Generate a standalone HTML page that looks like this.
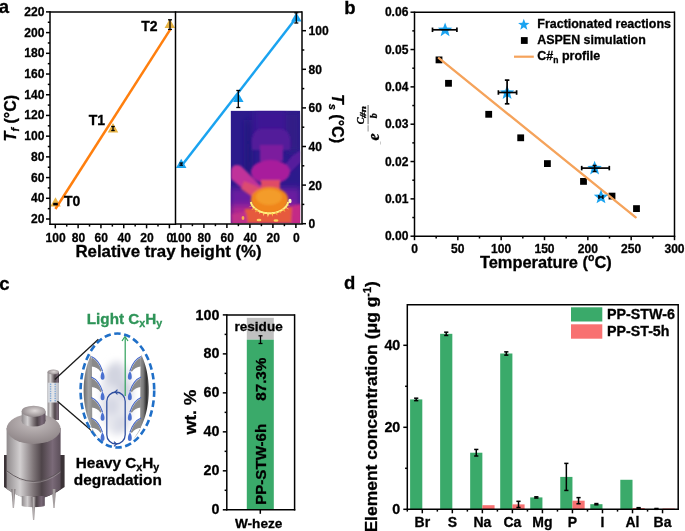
<!DOCTYPE html>
<html><head><meta charset="utf-8"><style>
html,body{margin:0;padding:0;background:#fff;width:685px;height:531px;overflow:hidden}
svg{display:block;will-change:transform}
text{font-family:"Liberation Sans", sans-serif;stroke:#000;stroke-width:0.3px}
</style></head><body>
<svg width="685" height="531" viewBox="0 0 685 531">
<defs>
<clipPath id="thclip"><rect x="230.6" y="110.7" width="69.7" height="112.5"/></clipPath>
<linearGradient id="thbg" x1="0" y1="0" x2="1" y2="0">
<stop offset="0" stop-color="#22198a"/><stop offset="0.5" stop-color="#3a1896"/><stop offset="1" stop-color="#5a1aa0"/>
</linearGradient>
<filter id="bl1" x="-20%" y="-20%" width="140%" height="140%"><feGaussianBlur stdDeviation="0.7"/></filter>
<filter id="bl2" x="-20%" y="-20%" width="140%" height="140%"><feGaussianBlur stdDeviation="1.2"/></filter>
<filter id="bl3" x="-20%" y="-20%" width="140%" height="140%"><feGaussianBlur stdDeviation="3"/></filter>
<filter id="bl4" x="-50%" y="-50%" width="200%" height="200%"><feGaussianBlur stdDeviation="4"/></filter>
<linearGradient id="metal" x1="0" y1="0" x2="1" y2="0">
<stop offset="0" stop-color="#8f8a8c"/><stop offset="0.25" stop-color="#d2cfd0"/><stop offset="0.5" stop-color="#7d7477"/><stop offset="0.65" stop-color="#4e4449"/><stop offset="0.85" stop-color="#7a6a78"/><stop offset="1" stop-color="#5c4f5a"/>
</linearGradient>
<radialGradient id="lidtop" cx="0.55" cy="0.45" r="0.6">
<stop offset="0" stop-color="#ded8d8"/><stop offset="1" stop-color="#8d8587"/>
</radialGradient>
<radialGradient id="bodytop" cx="0.5" cy="0.3" r="0.7">
<stop offset="0" stop-color="#c6bfc0"/><stop offset="1" stop-color="#8e8587"/>
</radialGradient>
<linearGradient id="wallL" x1="0" y1="0" x2="1" y2="0">
<stop offset="0" stop-color="#6a6a6a"/><stop offset="0.3" stop-color="#a2a2a2"/><stop offset="0.6" stop-color="#8c8c8c"/><stop offset="1" stop-color="#7a7a7a"/>
</linearGradient>
<linearGradient id="wallR" x1="0" y1="0" x2="1" y2="0">
<stop offset="0" stop-color="#5a5a5a"/><stop offset="0.15" stop-color="#333"/><stop offset="0.35" stop-color="#7a7a7a"/><stop offset="0.7" stop-color="#a0a0a0"/><stop offset="1" stop-color="#8e8e8e"/>
</linearGradient>
<linearGradient id="win" x1="0" y1="0" x2="1" y2="0">
<stop offset="0" stop-color="#cfd2d8"/><stop offset="0.5" stop-color="#e4e6ea"/><stop offset="1" stop-color="#b9bcc4"/>
</linearGradient>
<linearGradient id="leg" x1="0" y1="0" x2="1" y2="0">
<stop offset="0" stop-color="#6f686a"/><stop offset="0.5" stop-color="#b7b1b2"/><stop offset="1" stop-color="#6f686a"/>
</linearGradient>
</defs>
<text x="-1.30" y="13.00" font-size="18.5" font-weight="bold" text-anchor="start" fill="#000" >a</text>
<text x="344.30" y="13.60" font-size="18.5" font-weight="bold" text-anchor="start" fill="#000" >b</text>
<text x="-0.80" y="289.60" font-size="18.5" font-weight="bold" text-anchor="start" fill="#000" >c</text>
<text x="344.00" y="289.30" font-size="18.5" font-weight="bold" text-anchor="start" fill="#000" >d</text>
<g clip-path="url(#thclip)">
<rect x="230.6" y="110.5" width="69.4" height="112.8" fill="#2c1a8c"/>
<g filter="url(#bl3)">
<rect x="254" y="110" width="32" height="30" fill="#3c1894"/>
<rect x="286" y="112" width="14" height="40" fill="#301a86"/>
<path d="M230 188 L300 188 L300 224 L230 224 Z" fill="#6a1ca0"/>
<path d="M230 206 L300 206 L300 224 L230 224 Z" fill="#b02890"/>
<path d="M246 120 L250 120 L251 175 L246 175 Z" fill="#1e1478"/>
</g>
<g filter="url(#bl2)">
<path d="M252 150 Q249 130 262 128.5 L280 128.5 Q293 130 290 150 Z" fill="#521a9a"/>
<rect x="260" y="145" width="23" height="16" fill="#7c1a9e"/>
<path d="M284 166 L292 156 L301 150 L301 162 L291 172 Z" fill="#561a9c"/>
<ellipse cx="270.5" cy="172" rx="19.5" ry="12" fill="#a81e9c"/>
<path d="M231 170 Q233 163 241 166 L262 187 L255 199 L231 179 Z" fill="#c0339a"/>
<path d="M244 181 L261 188 L254 198 L241 189 Z" fill="#e0506a" opacity="0.85"/>
<rect x="261" y="180" width="19" height="12" fill="#e04c66"/>
<path d="M245 209 L293 207 L295 223 L244 223 Z" fill="#e65a3c"/>
<path d="M232 214 L246 212 L248 224 L232 224 Z" fill="#c0308a"/>
<path d="M292 206 L301 204 L301 224 L291 224 Z" fill="#c42c86"/>
<ellipse cx="269.5" cy="200" rx="18.7" ry="13" fill="#f0861f"/>
<ellipse cx="269" cy="197" rx="13" ry="8" fill="#f39c2a"/>
</g>
<g filter="url(#bl1)">
<path d="M288.17 202.06 L287.91 202.98 L287.56 203.88 L287.13 204.76 L286.60 205.62 L285.99 206.45 L285.30 207.25 L284.52 208.01 L283.68 208.73 L282.76 209.41 L281.77 210.04 L280.73 210.62 L279.63 211.15 L278.47 211.62 L277.28 212.03 L276.04 212.38 L274.77 212.68 L273.48 212.90 L272.16 213.07 L270.83 213.17 L269.50 213.20 L268.17 213.17 L266.84 213.07 L265.52 212.90 L264.23 212.68 L262.96 212.38 L261.72 212.03 L260.53 211.62 L259.37 211.15 L258.27 210.62 L257.23 210.04 L256.24 209.41 L255.32 208.73 L254.48 208.01 L253.70 207.25 L253.01 206.45 L252.40 205.62 L251.87 204.76 L251.44 203.88 L251.09 202.98 L250.83 202.06" fill="none" stroke="#fff07c" stroke-width="2.0"/>
<path d="M285.89 204.76 L289.79 205.70 L288.36 204.76 Z" fill="#fff080"/>
<path d="M284.12 207.25 L289.24 209.60 L286.48 207.25 Z" fill="#ffe070"/>
<path d="M281.23 209.41 L285.47 211.91 L284.29 209.41 Z" fill="#f8b040"/>
<path d="M278.64 211.15 L281.19 213.38 L280.61 211.15 Z" fill="#f8b040"/>
<path d="M274.80 212.38 L277.32 215.53 L277.28 212.38 Z" fill="#f8b040"/>
<path d="M271.24 213.07 L272.72 216.63 L273.08 213.07 Z" fill="#ffd050"/>
<path d="M266.95 213.17 L267.84 217.33 L269.38 213.17 Z" fill="#ffe070"/>
<path d="M263.38 212.68 L263.10 216.21 L265.08 212.68 Z" fill="#ffe070"/>
<path d="M259.70 211.62 L259.09 214.04 L261.35 211.62 Z" fill="#fff080"/>
<path d="M255.85 210.04 L254.95 212.46 L258.60 210.04 Z" fill="#f8b040"/>
<path d="M252.94 208.01 L251.17 210.30 L256.01 208.01 Z" fill="#f8b040"/>
<path d="M251.14 205.62 L248.60 207.25 L253.66 205.62 Z" fill="#ffd050"/>
<ellipse cx="290" cy="201" rx="1.6" ry="2.2" fill="#fff4c0"/>
<ellipse cx="259" cy="220" rx="2.4" ry="1.2" fill="#ffd060"/>
<ellipse cx="276" cy="220.5" rx="2.4" ry="1.2" fill="#ffcf60"/>
<ellipse cx="243" cy="218" rx="1.4" ry="2" fill="#f8b050"/>
</g>
</g>
<path d="M55.50 197.14 L60.75 206.59 L50.25 206.59 Z" fill="#E8B445"/>
<path d="M113.00 122.94 L118.25 132.39 L107.75 132.39 Z" fill="#E8B445"/>
<path d="M169.80 18.64 L175.05 28.09 L164.55 28.09 Z" fill="#E8B445"/>
<path d="M181.20 158.64 L186.45 168.09 L175.95 168.09 Z" fill="#1AA3F0"/>
<path d="M238.30 92.64 L243.55 102.09 L233.05 102.09 Z" fill="#1AA3F0"/>
<path d="M296.30 12.14 L301.55 21.59 L291.05 21.59 Z" fill="#1AA3F0"/>
<line x1="55.40" y1="209.00" x2="170.30" y2="29.40" stroke="#FF7F0E" stroke-width="2.5" />
<line x1="181.00" y1="166.50" x2="296.50" y2="17.50" stroke="#1AA3F0" stroke-width="2.5" />
<line x1="55.50" y1="203.60" x2="55.50" y2="204.60" stroke="#000" stroke-width="1.6" />
<line x1="53.25" y1="203.60" x2="57.75" y2="203.60" stroke="#000" stroke-width="1.6" />
<line x1="53.25" y1="204.60" x2="57.75" y2="204.60" stroke="#000" stroke-width="1.6" />
<line x1="113.00" y1="126.50" x2="113.00" y2="130.50" stroke="#000" stroke-width="1.3" />
<line x1="111.25" y1="126.50" x2="114.75" y2="126.50" stroke="#000" stroke-width="1.3" />
<line x1="111.25" y1="130.50" x2="114.75" y2="130.50" stroke="#000" stroke-width="1.3" />
<line x1="170.00" y1="19.80" x2="170.00" y2="29.40" stroke="#000" stroke-width="1.3" />
<line x1="168.00" y1="19.80" x2="172.00" y2="19.80" stroke="#000" stroke-width="1.3" />
<line x1="168.00" y1="29.40" x2="172.00" y2="29.40" stroke="#000" stroke-width="1.3" />
<line x1="181.20" y1="163.00" x2="181.20" y2="165.20" stroke="#000" stroke-width="1.2" />
<line x1="179.45" y1="163.00" x2="182.95" y2="163.00" stroke="#000" stroke-width="1.2" />
<line x1="179.45" y1="165.20" x2="182.95" y2="165.20" stroke="#000" stroke-width="1.2" />
<line x1="238.30" y1="90.50" x2="238.30" y2="107.50" stroke="#000" stroke-width="1.3" />
<line x1="236.30" y1="90.50" x2="240.30" y2="90.50" stroke="#000" stroke-width="1.3" />
<line x1="236.30" y1="107.50" x2="240.30" y2="107.50" stroke="#000" stroke-width="1.3" />
<line x1="296.30" y1="12.80" x2="296.30" y2="23.00" stroke="#000" stroke-width="1.3" />
<line x1="294.30" y1="12.80" x2="298.30" y2="12.80" stroke="#000" stroke-width="1.3" />
<line x1="294.30" y1="23.00" x2="298.30" y2="23.00" stroke="#000" stroke-width="1.3" />
<text x="64.00" y="205.60" font-size="14" font-weight="bold" text-anchor="start" fill="#000" >T0</text>
<text x="88.80" y="125.00" font-size="14" font-weight="bold" text-anchor="start" fill="#000" >T1</text>
<text x="141.30" y="30.60" font-size="14" font-weight="bold" text-anchor="start" fill="#000" >T2</text>
<line x1="50.00" y1="12.00" x2="302.00" y2="12.00" stroke="#000" stroke-width="1.5" />
<line x1="50.00" y1="11.30" x2="50.00" y2="225.00" stroke="#000" stroke-width="1.5" />
<line x1="175.50" y1="11.30" x2="175.50" y2="225.00" stroke="#000" stroke-width="1.5" />
<line x1="302.00" y1="11.30" x2="302.00" y2="224.00" stroke="#000" stroke-width="1.5" />
<line x1="49.30" y1="224.30" x2="175.50" y2="224.30" stroke="#000" stroke-width="1.5" />
<line x1="175.50" y1="223.90" x2="302.70" y2="223.90" stroke="#000" stroke-width="1.5" />
<line x1="46.00" y1="219.00" x2="50.00" y2="219.00" stroke="#000" stroke-width="1.5" />
<text transform="translate(44.40,223.00) scale(0.93,1)" font-size="13" font-weight="bold" text-anchor="end" fill="#000" >20</text>
<line x1="47.80" y1="208.65" x2="50.00" y2="208.65" stroke="#000" stroke-width="1.5" />
<line x1="46.00" y1="198.29" x2="50.00" y2="198.29" stroke="#000" stroke-width="1.5" />
<text transform="translate(44.40,202.29) scale(0.93,1)" font-size="13" font-weight="bold" text-anchor="end" fill="#000" >40</text>
<line x1="47.80" y1="187.94" x2="50.00" y2="187.94" stroke="#000" stroke-width="1.5" />
<line x1="46.00" y1="177.58" x2="50.00" y2="177.58" stroke="#000" stroke-width="1.5" />
<text transform="translate(44.40,181.58) scale(0.93,1)" font-size="13" font-weight="bold" text-anchor="end" fill="#000" >60</text>
<line x1="47.80" y1="167.23" x2="50.00" y2="167.23" stroke="#000" stroke-width="1.5" />
<line x1="46.00" y1="156.87" x2="50.00" y2="156.87" stroke="#000" stroke-width="1.5" />
<text transform="translate(44.40,160.87) scale(0.93,1)" font-size="13" font-weight="bold" text-anchor="end" fill="#000" >80</text>
<line x1="47.80" y1="146.52" x2="50.00" y2="146.52" stroke="#000" stroke-width="1.5" />
<line x1="46.00" y1="136.16" x2="50.00" y2="136.16" stroke="#000" stroke-width="1.5" />
<text transform="translate(44.40,140.16) scale(0.93,1)" font-size="13" font-weight="bold" text-anchor="end" fill="#000" >100</text>
<line x1="47.80" y1="125.81" x2="50.00" y2="125.81" stroke="#000" stroke-width="1.5" />
<line x1="46.00" y1="115.45" x2="50.00" y2="115.45" stroke="#000" stroke-width="1.5" />
<text transform="translate(44.40,119.45) scale(0.93,1)" font-size="13" font-weight="bold" text-anchor="end" fill="#000" >120</text>
<line x1="47.80" y1="105.10" x2="50.00" y2="105.10" stroke="#000" stroke-width="1.5" />
<line x1="46.00" y1="94.74" x2="50.00" y2="94.74" stroke="#000" stroke-width="1.5" />
<text transform="translate(44.40,98.74) scale(0.93,1)" font-size="13" font-weight="bold" text-anchor="end" fill="#000" >140</text>
<line x1="47.80" y1="84.39" x2="50.00" y2="84.39" stroke="#000" stroke-width="1.5" />
<line x1="46.00" y1="74.03" x2="50.00" y2="74.03" stroke="#000" stroke-width="1.5" />
<text transform="translate(44.40,78.03) scale(0.93,1)" font-size="13" font-weight="bold" text-anchor="end" fill="#000" >160</text>
<line x1="47.80" y1="63.68" x2="50.00" y2="63.68" stroke="#000" stroke-width="1.5" />
<line x1="46.00" y1="53.32" x2="50.00" y2="53.32" stroke="#000" stroke-width="1.5" />
<text transform="translate(44.40,57.32) scale(0.93,1)" font-size="13" font-weight="bold" text-anchor="end" fill="#000" >180</text>
<line x1="47.80" y1="42.97" x2="50.00" y2="42.97" stroke="#000" stroke-width="1.5" />
<line x1="46.00" y1="32.61" x2="50.00" y2="32.61" stroke="#000" stroke-width="1.5" />
<text transform="translate(44.40,36.61) scale(0.93,1)" font-size="13" font-weight="bold" text-anchor="end" fill="#000" >200</text>
<line x1="47.80" y1="22.26" x2="50.00" y2="22.26" stroke="#000" stroke-width="1.5" />
<line x1="46.00" y1="11.90" x2="50.00" y2="11.90" stroke="#000" stroke-width="1.5" />
<text transform="translate(44.40,15.90) scale(0.93,1)" font-size="13" font-weight="bold" text-anchor="end" fill="#000" >220</text>
<line x1="169.40" y1="224.30" x2="169.40" y2="228.30" stroke="#000" stroke-width="1.5" />
<text transform="translate(169.80,241.60) scale(0.93,1)" font-size="13" font-weight="bold" text-anchor="middle" fill="#000" >0</text>
<line x1="157.99" y1="224.30" x2="157.99" y2="226.60" stroke="#000" stroke-width="1.5" />
<line x1="146.58" y1="224.30" x2="146.58" y2="228.30" stroke="#000" stroke-width="1.5" />
<text transform="translate(146.98,241.60) scale(0.93,1)" font-size="13" font-weight="bold" text-anchor="middle" fill="#000" >20</text>
<line x1="135.17" y1="224.30" x2="135.17" y2="226.60" stroke="#000" stroke-width="1.5" />
<line x1="123.76" y1="224.30" x2="123.76" y2="228.30" stroke="#000" stroke-width="1.5" />
<text transform="translate(124.16,241.60) scale(0.93,1)" font-size="13" font-weight="bold" text-anchor="middle" fill="#000" >40</text>
<line x1="112.35" y1="224.30" x2="112.35" y2="226.60" stroke="#000" stroke-width="1.5" />
<line x1="100.94" y1="224.30" x2="100.94" y2="228.30" stroke="#000" stroke-width="1.5" />
<text transform="translate(101.34,241.60) scale(0.93,1)" font-size="13" font-weight="bold" text-anchor="middle" fill="#000" >60</text>
<line x1="89.53" y1="224.30" x2="89.53" y2="226.60" stroke="#000" stroke-width="1.5" />
<line x1="78.12" y1="224.30" x2="78.12" y2="228.30" stroke="#000" stroke-width="1.5" />
<text transform="translate(78.52,241.60) scale(0.93,1)" font-size="13" font-weight="bold" text-anchor="middle" fill="#000" >80</text>
<line x1="66.71" y1="224.30" x2="66.71" y2="226.60" stroke="#000" stroke-width="1.5" />
<line x1="55.30" y1="224.30" x2="55.30" y2="228.30" stroke="#000" stroke-width="1.5" />
<text transform="translate(55.70,241.60) scale(0.93,1)" font-size="13" font-weight="bold" text-anchor="middle" fill="#000" >100</text>
<line x1="295.90" y1="223.90" x2="295.90" y2="227.90" stroke="#000" stroke-width="1.5" />
<text transform="translate(296.30,241.60) scale(0.93,1)" font-size="13" font-weight="bold" text-anchor="middle" fill="#000" >0</text>
<line x1="284.40" y1="223.90" x2="284.40" y2="226.20" stroke="#000" stroke-width="1.5" />
<line x1="272.90" y1="223.90" x2="272.90" y2="227.90" stroke="#000" stroke-width="1.5" />
<text transform="translate(273.30,241.60) scale(0.93,1)" font-size="13" font-weight="bold" text-anchor="middle" fill="#000" >20</text>
<line x1="261.40" y1="223.90" x2="261.40" y2="226.20" stroke="#000" stroke-width="1.5" />
<line x1="249.90" y1="223.90" x2="249.90" y2="227.90" stroke="#000" stroke-width="1.5" />
<text transform="translate(250.30,241.60) scale(0.93,1)" font-size="13" font-weight="bold" text-anchor="middle" fill="#000" >40</text>
<line x1="238.40" y1="223.90" x2="238.40" y2="226.20" stroke="#000" stroke-width="1.5" />
<line x1="226.90" y1="223.90" x2="226.90" y2="227.90" stroke="#000" stroke-width="1.5" />
<text transform="translate(227.30,241.60) scale(0.93,1)" font-size="13" font-weight="bold" text-anchor="middle" fill="#000" >60</text>
<line x1="215.40" y1="223.90" x2="215.40" y2="226.20" stroke="#000" stroke-width="1.5" />
<line x1="203.90" y1="223.90" x2="203.90" y2="227.90" stroke="#000" stroke-width="1.5" />
<text transform="translate(204.30,241.60) scale(0.93,1)" font-size="13" font-weight="bold" text-anchor="middle" fill="#000" >80</text>
<line x1="192.40" y1="223.90" x2="192.40" y2="226.20" stroke="#000" stroke-width="1.5" />
<line x1="180.90" y1="223.90" x2="180.90" y2="227.90" stroke="#000" stroke-width="1.5" />
<text transform="translate(181.30,241.60) scale(0.93,1)" font-size="13" font-weight="bold" text-anchor="middle" fill="#000" >100</text>
<line x1="302.00" y1="223.70" x2="306.00" y2="223.70" stroke="#000" stroke-width="1.5" />
<text transform="translate(308.60,228.20) scale(0.93,1)" font-size="13" font-weight="bold" text-anchor="start" fill="#000" >0</text>
<line x1="302.00" y1="204.40" x2="304.30" y2="204.40" stroke="#000" stroke-width="1.5" />
<line x1="302.00" y1="185.10" x2="306.00" y2="185.10" stroke="#000" stroke-width="1.5" />
<text transform="translate(308.60,189.60) scale(0.93,1)" font-size="13" font-weight="bold" text-anchor="start" fill="#000" >20</text>
<line x1="302.00" y1="165.80" x2="304.30" y2="165.80" stroke="#000" stroke-width="1.5" />
<line x1="302.00" y1="146.50" x2="306.00" y2="146.50" stroke="#000" stroke-width="1.5" />
<text transform="translate(308.60,151.00) scale(0.93,1)" font-size="13" font-weight="bold" text-anchor="start" fill="#000" >40</text>
<line x1="302.00" y1="127.20" x2="304.30" y2="127.20" stroke="#000" stroke-width="1.5" />
<line x1="302.00" y1="107.90" x2="306.00" y2="107.90" stroke="#000" stroke-width="1.5" />
<text transform="translate(308.60,112.40) scale(0.93,1)" font-size="13" font-weight="bold" text-anchor="start" fill="#000" >60</text>
<line x1="302.00" y1="88.60" x2="304.30" y2="88.60" stroke="#000" stroke-width="1.5" />
<line x1="302.00" y1="69.30" x2="306.00" y2="69.30" stroke="#000" stroke-width="1.5" />
<text transform="translate(308.60,73.80) scale(0.93,1)" font-size="13" font-weight="bold" text-anchor="start" fill="#000" >80</text>
<line x1="302.00" y1="50.00" x2="304.30" y2="50.00" stroke="#000" stroke-width="1.5" />
<line x1="302.00" y1="30.70" x2="306.00" y2="30.70" stroke="#000" stroke-width="1.5" />
<text transform="translate(308.60,35.20) scale(0.93,1)" font-size="13" font-weight="bold" text-anchor="start" fill="#000" >100</text>
<text x="75.40" y="256.60" font-size="16.5" font-weight="bold" text-anchor="start" fill="#000" textLength="186.3" lengthAdjust="spacingAndGlyphs" >Relative tray height (%)</text>
<text transform="translate(15.9,141.4) rotate(-90)" font-size="16" font-weight="bold"><tspan font-style="italic">T</tspan><tspan font-style="italic" font-size="11" dy="3">f</tspan><tspan dy="-3"> (°C)</tspan></text>
<text transform="translate(331.6,94.0) rotate(90)" font-size="16" font-weight="bold"><tspan font-style="italic">T</tspan><tspan font-style="italic" font-size="11" dy="3">s</tspan><tspan dy="-3"> (°C)</tspan></text>
<rect x="435.60" y="56.50" width="6.80" height="6.80" fill="#000" />
<rect x="445.10" y="79.90" width="6.80" height="6.80" fill="#000" />
<rect x="485.30" y="110.90" width="6.80" height="6.80" fill="#000" />
<rect x="517.30" y="134.40" width="6.80" height="6.80" fill="#000" />
<rect x="544.00" y="160.20" width="6.80" height="6.80" fill="#000" />
<rect x="580.10" y="178.00" width="6.80" height="6.80" fill="#000" />
<rect x="608.60" y="192.70" width="6.80" height="6.80" fill="#000" />
<rect x="633.10" y="205.20" width="6.80" height="6.80" fill="#000" />
<line x1="438.90" y1="58.20" x2="635.70" y2="217.30" stroke="#F5A35B" stroke-width="2.3" stroke-linecap="round"/>
<polygon points="445.10,22.40 446.98,27.42 452.33,27.65 448.14,30.99 449.57,36.15 445.10,33.19 440.63,36.15 442.06,30.99 437.87,27.65 443.22,27.42" fill="#1AA3F0"/>
<line x1="432.50" y1="29.80" x2="456.90" y2="29.80" stroke="#000" stroke-width="1.7" />
<line x1="432.50" y1="27.55" x2="432.50" y2="32.05" stroke="#000" stroke-width="1.7" />
<line x1="456.90" y1="27.55" x2="456.90" y2="32.05" stroke="#000" stroke-width="1.7" />
<polygon points="507.10,85.20 508.98,90.22 514.33,90.45 510.14,93.79 511.57,98.95 507.10,95.99 502.63,98.95 504.06,93.79 499.87,90.45 505.22,90.22" fill="#1AA3F0"/>
<line x1="498.40" y1="92.50" x2="516.60" y2="92.50" stroke="#000" stroke-width="1.7" />
<line x1="498.40" y1="90.25" x2="498.40" y2="94.75" stroke="#000" stroke-width="1.7" />
<line x1="516.60" y1="90.25" x2="516.60" y2="94.75" stroke="#000" stroke-width="1.7" />
<line x1="507.10" y1="80.10" x2="507.10" y2="103.80" stroke="#000" stroke-width="1.7" />
<line x1="504.85" y1="80.10" x2="509.35" y2="80.10" stroke="#000" stroke-width="1.7" />
<line x1="504.85" y1="103.80" x2="509.35" y2="103.80" stroke="#000" stroke-width="1.7" />
<polygon points="594.60,160.70 596.48,165.72 601.83,165.95 597.64,169.29 599.07,174.45 594.60,171.49 590.13,174.45 591.56,169.29 587.37,165.95 592.72,165.72" fill="#1AA3F0"/>
<line x1="581.70" y1="168.10" x2="609.30" y2="168.10" stroke="#000" stroke-width="1.7" />
<line x1="581.70" y1="165.85" x2="581.70" y2="170.35" stroke="#000" stroke-width="1.7" />
<line x1="609.30" y1="165.85" x2="609.30" y2="170.35" stroke="#000" stroke-width="1.7" />
<line x1="594.60" y1="165.50" x2="594.60" y2="171.50" stroke="#000" stroke-width="1.5" />
<line x1="592.60" y1="165.50" x2="596.60" y2="165.50" stroke="#000" stroke-width="1.5" />
<line x1="592.60" y1="171.50" x2="596.60" y2="171.50" stroke="#000" stroke-width="1.5" />
<polygon points="601.00,189.60 602.88,194.62 608.23,194.85 604.04,198.19 605.47,203.35 601.00,200.39 596.53,203.35 597.96,198.19 593.77,194.85 599.12,194.62" fill="#1AA3F0"/>
<line x1="598.90" y1="197.00" x2="602.90" y2="197.00" stroke="#000" stroke-width="1.4" />
<line x1="598.90" y1="194.90" x2="598.90" y2="199.10" stroke="#000" stroke-width="1.4" />
<line x1="602.90" y1="194.90" x2="602.90" y2="199.10" stroke="#000" stroke-width="1.4" />
<line x1="414.50" y1="12.20" x2="674.50" y2="12.20" stroke="#000" stroke-width="1.5" />
<line x1="414.50" y1="11.50" x2="414.50" y2="236.90" stroke="#000" stroke-width="1.5" />
<line x1="674.50" y1="11.50" x2="674.50" y2="236.90" stroke="#000" stroke-width="1.5" />
<line x1="413.80" y1="236.20" x2="675.20" y2="236.20" stroke="#000" stroke-width="1.5" />
<line x1="410.50" y1="236.20" x2="414.50" y2="236.20" stroke="#000" stroke-width="1.5" />
<text transform="translate(408.40,240.20) scale(0.93,1)" font-size="13" font-weight="bold" text-anchor="end" fill="#000" >0.00</text>
<line x1="412.30" y1="217.53" x2="414.50" y2="217.53" stroke="#000" stroke-width="1.5" />
<line x1="410.50" y1="198.87" x2="414.50" y2="198.87" stroke="#000" stroke-width="1.5" />
<text transform="translate(408.40,202.87) scale(0.93,1)" font-size="13" font-weight="bold" text-anchor="end" fill="#000" >0.01</text>
<line x1="412.30" y1="180.20" x2="414.50" y2="180.20" stroke="#000" stroke-width="1.5" />
<line x1="410.50" y1="161.53" x2="414.50" y2="161.53" stroke="#000" stroke-width="1.5" />
<text transform="translate(408.40,165.53) scale(0.93,1)" font-size="13" font-weight="bold" text-anchor="end" fill="#000" >0.02</text>
<line x1="412.30" y1="142.87" x2="414.50" y2="142.87" stroke="#000" stroke-width="1.5" />
<line x1="410.50" y1="124.20" x2="414.50" y2="124.20" stroke="#000" stroke-width="1.5" />
<text transform="translate(408.40,128.20) scale(0.93,1)" font-size="13" font-weight="bold" text-anchor="end" fill="#000" >0.03</text>
<line x1="412.30" y1="105.53" x2="414.50" y2="105.53" stroke="#000" stroke-width="1.5" />
<line x1="410.50" y1="86.87" x2="414.50" y2="86.87" stroke="#000" stroke-width="1.5" />
<text transform="translate(408.40,90.87) scale(0.93,1)" font-size="13" font-weight="bold" text-anchor="end" fill="#000" >0.04</text>
<line x1="412.30" y1="68.20" x2="414.50" y2="68.20" stroke="#000" stroke-width="1.5" />
<line x1="410.50" y1="49.53" x2="414.50" y2="49.53" stroke="#000" stroke-width="1.5" />
<text transform="translate(408.40,53.53) scale(0.93,1)" font-size="13" font-weight="bold" text-anchor="end" fill="#000" >0.05</text>
<line x1="412.30" y1="30.87" x2="414.50" y2="30.87" stroke="#000" stroke-width="1.5" />
<line x1="410.50" y1="12.20" x2="414.50" y2="12.20" stroke="#000" stroke-width="1.5" />
<text transform="translate(408.40,16.20) scale(0.93,1)" font-size="13" font-weight="bold" text-anchor="end" fill="#000" >0.06</text>
<line x1="414.50" y1="236.20" x2="414.50" y2="240.20" stroke="#000" stroke-width="1.5" />
<text transform="translate(414.50,252.80) scale(0.93,1)" font-size="13" font-weight="bold" text-anchor="middle" fill="#000" >0</text>
<line x1="436.17" y1="236.20" x2="436.17" y2="238.50" stroke="#000" stroke-width="1.5" />
<line x1="457.83" y1="236.20" x2="457.83" y2="240.20" stroke="#000" stroke-width="1.5" />
<text transform="translate(457.83,252.80) scale(0.93,1)" font-size="13" font-weight="bold" text-anchor="middle" fill="#000" >50</text>
<line x1="479.50" y1="236.20" x2="479.50" y2="238.50" stroke="#000" stroke-width="1.5" />
<line x1="501.17" y1="236.20" x2="501.17" y2="240.20" stroke="#000" stroke-width="1.5" />
<text transform="translate(501.17,252.80) scale(0.93,1)" font-size="13" font-weight="bold" text-anchor="middle" fill="#000" >100</text>
<line x1="522.83" y1="236.20" x2="522.83" y2="238.50" stroke="#000" stroke-width="1.5" />
<line x1="544.50" y1="236.20" x2="544.50" y2="240.20" stroke="#000" stroke-width="1.5" />
<text transform="translate(544.50,252.80) scale(0.93,1)" font-size="13" font-weight="bold" text-anchor="middle" fill="#000" >150</text>
<line x1="566.17" y1="236.20" x2="566.17" y2="238.50" stroke="#000" stroke-width="1.5" />
<line x1="587.83" y1="236.20" x2="587.83" y2="240.20" stroke="#000" stroke-width="1.5" />
<text transform="translate(587.83,252.80) scale(0.93,1)" font-size="13" font-weight="bold" text-anchor="middle" fill="#000" >200</text>
<line x1="609.50" y1="236.20" x2="609.50" y2="238.50" stroke="#000" stroke-width="1.5" />
<line x1="631.17" y1="236.20" x2="631.17" y2="240.20" stroke="#000" stroke-width="1.5" />
<text transform="translate(631.17,252.80) scale(0.93,1)" font-size="13" font-weight="bold" text-anchor="middle" fill="#000" >250</text>
<line x1="652.83" y1="236.20" x2="652.83" y2="238.50" stroke="#000" stroke-width="1.5" />
<line x1="674.50" y1="236.20" x2="674.50" y2="240.20" stroke="#000" stroke-width="1.5" />
<text transform="translate(674.50,252.80) scale(0.93,1)" font-size="13" font-weight="bold" text-anchor="middle" fill="#000" >300</text>
<text x="479.9" y="267.6" font-size="16.4" font-weight="bold">Temperature (<tspan font-size="10.5" dy="-6.5">o</tspan><tspan dy="6.5">C)</tspan></text>
<text transform="translate(379.3,140.6) rotate(-90)" font-size="16" style="font-family:'Liberation Serif',serif;font-style:italic;font-weight:bold">e</text>
<line x1="368.10" y1="125.20" x2="368.10" y2="131.60" stroke="#9a9a9a" stroke-width="1.1" />
<line x1="368.10" y1="105.00" x2="368.10" y2="124.20" stroke="#858585" stroke-width="1.3" />
<text transform="translate(364.0,124.3) rotate(-90)" font-size="10" style="font-family:'Liberation Serif',serif;font-style:italic;font-weight:bold">C</text>
<text transform="translate(366.4,117.9) rotate(-90)" font-size="8" style="font-family:'Liberation Serif',serif;font-style:italic;font-weight:bold" textLength="11.8" lengthAdjust="spacingAndGlyphs">#n</text>
<text transform="translate(377.0,118.2) rotate(-90)" font-size="10" font-weight="bold" style="font-family:'Liberation Serif',serif;font-style:italic;font-weight:bold">b</text>
<line x1="380.50" y1="141.50" x2="380.50" y2="144.50" stroke="#bbbbbb" stroke-width="0.8" />
<polygon points="523.80,18.80 525.28,22.76 529.51,22.95 526.20,25.58 527.33,29.65 523.80,27.32 520.27,29.65 521.40,25.58 518.09,22.95 522.32,22.76" fill="#1AA3F0"/>
<text x="537.30" y="27.90" font-size="12.5" font-weight="bold" text-anchor="start" fill="#000" textLength="133.7" lengthAdjust="spacingAndGlyphs" >Fractionated reactions</text>
<rect x="520.90" y="37.10" width="6.80" height="6.80" fill="#000" />
<text x="537.30" y="44.00" font-size="12.5" font-weight="bold" text-anchor="start" fill="#000" textLength="108.5" lengthAdjust="spacingAndGlyphs" >ASPEN simulation</text>
<line x1="514.00" y1="56.70" x2="533.80" y2="56.70" stroke="#F5A35B" stroke-width="2.2" />
<text x="537.3" y="60.0" font-size="12.5" font-weight="bold">C#<tspan font-size="8.5" dy="3">n</tspan><tspan dy="-3"> profile</tspan></text>
<rect x="246.80" y="317.82" width="27.00" height="21.83" fill="#C0C0C0" />
<rect x="246.80" y="339.65" width="27.00" height="170.15" fill="#3AAA6A" />
<line x1="260.50" y1="335.80" x2="260.50" y2="343.50" stroke="#000" stroke-width="1.3" />
<line x1="258.50" y1="335.80" x2="262.50" y2="335.80" stroke="#000" stroke-width="1.3" />
<line x1="258.50" y1="343.50" x2="262.50" y2="343.50" stroke="#000" stroke-width="1.3" />
<text x="258.60" y="331.40" font-size="13.5" font-weight="bold" text-anchor="middle" fill="#000" textLength="48.2" lengthAdjust="spacingAndGlyphs" >residue</text>
<text transform="translate(266.4,504.8) rotate(-90)" font-size="15" font-weight="bold" textLength="81" lengthAdjust="spacingAndGlyphs">PP-STW-6h</text>
<text transform="translate(266.4,400.8) rotate(-90)" font-size="15" font-weight="bold" textLength="43.2" lengthAdjust="spacingAndGlyphs">87.3%</text>
<line x1="226.80" y1="314.90" x2="294.60" y2="314.90" stroke="#000" stroke-width="1.5" />
<line x1="226.80" y1="314.20" x2="226.80" y2="510.50" stroke="#000" stroke-width="1.5" />
<line x1="294.60" y1="314.20" x2="294.60" y2="510.50" stroke="#000" stroke-width="1.5" />
<line x1="226.10" y1="509.80" x2="295.30" y2="509.80" stroke="#000" stroke-width="1.5" />
<line x1="222.80" y1="509.80" x2="226.80" y2="509.80" stroke="#000" stroke-width="1.5" />
<text x="219.40" y="514.40" font-size="14.3" font-weight="bold" text-anchor="end" fill="#000" >0</text>
<line x1="224.60" y1="490.31" x2="226.80" y2="490.31" stroke="#000" stroke-width="1.5" />
<line x1="222.80" y1="470.82" x2="226.80" y2="470.82" stroke="#000" stroke-width="1.5" />
<text x="219.40" y="475.42" font-size="14.3" font-weight="bold" text-anchor="end" fill="#000" >20</text>
<line x1="224.60" y1="451.33" x2="226.80" y2="451.33" stroke="#000" stroke-width="1.5" />
<line x1="222.80" y1="431.84" x2="226.80" y2="431.84" stroke="#000" stroke-width="1.5" />
<text x="219.40" y="436.44" font-size="14.3" font-weight="bold" text-anchor="end" fill="#000" >40</text>
<line x1="224.60" y1="412.35" x2="226.80" y2="412.35" stroke="#000" stroke-width="1.5" />
<line x1="222.80" y1="392.86" x2="226.80" y2="392.86" stroke="#000" stroke-width="1.5" />
<text x="219.40" y="397.46" font-size="14.3" font-weight="bold" text-anchor="end" fill="#000" >60</text>
<line x1="224.60" y1="373.37" x2="226.80" y2="373.37" stroke="#000" stroke-width="1.5" />
<line x1="222.80" y1="353.88" x2="226.80" y2="353.88" stroke="#000" stroke-width="1.5" />
<text x="219.40" y="358.48" font-size="14.3" font-weight="bold" text-anchor="end" fill="#000" >80</text>
<line x1="224.60" y1="334.39" x2="226.80" y2="334.39" stroke="#000" stroke-width="1.5" />
<line x1="222.80" y1="314.90" x2="226.80" y2="314.90" stroke="#000" stroke-width="1.5" />
<text x="219.40" y="319.50" font-size="14.3" font-weight="bold" text-anchor="end" fill="#000" >100</text>
<line x1="260.30" y1="509.80" x2="260.30" y2="513.80" stroke="#000" stroke-width="1.5" />
<text x="258.70" y="527.60" font-size="13.5" font-weight="bold" text-anchor="middle" fill="#000" textLength="47.5" lengthAdjust="spacingAndGlyphs" >W-heze</text>
<text transform="translate(196.0,434.4) rotate(-90)" font-size="16" font-weight="bold" textLength="44.8" lengthAdjust="spacingAndGlyphs">wt. %</text>
<g id="illu">
<path d="M4 455 L4 487 Q34 510 64.6 487 L64.6 455 Z" fill="#3b3337"/>
<rect x="47.5" y="372" width="11.5" height="48" fill="url(#metal)"/>
<rect x="47.5" y="382.7" width="11.5" height="19.8" fill="url(#win)"/>
<g fill="#7aa4d6"><ellipse cx="50.6" cy="384.30" rx="0.8" ry="0.7"/><ellipse cx="55.2" cy="384.30" rx="0.8" ry="0.7"/><ellipse cx="50.6" cy="386.65" rx="0.8" ry="0.7"/><ellipse cx="55.2" cy="386.65" rx="0.8" ry="0.7"/><ellipse cx="50.6" cy="389.00" rx="0.8" ry="0.7"/><ellipse cx="55.2" cy="389.00" rx="0.8" ry="0.7"/><ellipse cx="50.6" cy="391.35" rx="0.8" ry="0.7"/><ellipse cx="55.2" cy="391.35" rx="0.8" ry="0.7"/><ellipse cx="50.6" cy="393.70" rx="0.8" ry="0.7"/><ellipse cx="55.2" cy="393.70" rx="0.8" ry="0.7"/><ellipse cx="50.6" cy="396.05" rx="0.8" ry="0.7"/><ellipse cx="55.2" cy="396.05" rx="0.8" ry="0.7"/><ellipse cx="50.6" cy="398.40" rx="0.8" ry="0.7"/><ellipse cx="55.2" cy="398.40" rx="0.8" ry="0.7"/><ellipse cx="50.6" cy="400.75" rx="0.8" ry="0.7"/><ellipse cx="55.2" cy="400.75" rx="0.8" ry="0.7"/></g>
<ellipse cx="53.25" cy="372" rx="5.75" ry="2.6" fill="url(#lidtop)"/>
<path d="M6.6 428 L6.6 489 Q33.6 509 60.6 489 L60.6 428 Z" fill="url(#metal)"/>
<path d="M6.6 470.8 Q33.6 492 60.6 470.8" fill="none" stroke="#5e5659" stroke-width="0.9"/>
<path d="M6.6 472.0 Q33.6 493.2 60.6 472.0" fill="none" stroke="#b5aeb0" stroke-width="0.6" opacity="0.8"/>
<ellipse cx="33.6" cy="428.7" rx="27" ry="15.2" fill="url(#bodytop)"/>
<rect x="21.7" y="411.3" width="23.8" height="9.7" fill="url(#metal)"/>
<ellipse cx="33.6" cy="421" rx="11.9" ry="5.6" fill="url(#metal)"/>
<ellipse cx="33.6" cy="411.3" rx="11.9" ry="5.6" fill="url(#lidtop)"/>
<rect x="21.7" y="496" width="23.1" height="9.7" fill="url(#metal)"/>
<ellipse cx="33.25" cy="505.7" rx="11.55" ry="1.5" fill="url(#metal)"/>
<path d="M11.4 489 L15.4 489 L14.0 508 L12.8 508 Z" fill="url(#leg)"/>
<path d="M31.6 497 L35.6 497 L34.2 520 L33.0 520 Z" fill="url(#leg)"/>
<path d="M52.0 489 L56.0 489 L54.6 508 L53.4 508 Z" fill="url(#leg)"/>
<line x1="54.8" y1="379.4" x2="98.4" y2="339.2" stroke="#1a1a1a" stroke-width="1.3"/>
<line x1="57.4" y1="401.2" x2="92" y2="431" stroke="#1a1a1a" stroke-width="1.3"/>
<ellipse cx="117.4" cy="390.5" rx="36.8" ry="57" fill="#fff"/>
<g filter="url(#bl3)">
<ellipse cx="117" cy="398" rx="17" ry="38" fill="#e6e7ee"/>
<ellipse cx="115" cy="376" rx="9" ry="11" fill="#d2d4e0"/>
<ellipse cx="124" cy="390" rx="6" ry="9" fill="#cdd0de"/>
<ellipse cx="112" cy="406" rx="7" ry="9" fill="#d6d8e4"/>
<ellipse cx="121" cy="424" rx="7" ry="8" fill="#d9dbe6"/>
</g>
<path d="M90.6 354.6 L90.27 356.50 L89.04 359.50 L87.96 362.50 L87.02 365.50 L86.22 368.50 L85.53 371.50 L84.96 374.50 L84.49 377.50 L84.12 380.50 L83.86 383.50 L83.68 386.50 L83.61 389.50 L83.62 392.50 L83.73 395.50 L83.93 398.50 L84.24 401.50 L84.64 404.50 L85.14 407.50 L85.75 410.50 L86.47 413.50 L87.32 416.50 L88.30 419.50 L89.43 422.50 L90.72 425.50 L92.21 428.50 L93.92 431.50 L95.91 434.50 L99.5 440.5 L92.3 430 L91.9 360 Z" fill="url(#wallL)"/>
<path d="M90.6 354.6 L90.27 356.50 L89.04 359.50 L87.96 362.50 L87.02 365.50 L86.22 368.50 L85.53 371.50 L84.96 374.50 L84.49 377.50 L84.12 380.50 L83.86 383.50 L83.68 386.50 L83.61 389.50 L83.62 392.50 L83.73 395.50 L83.93 398.50 L84.24 401.50 L84.64 404.50 L85.14 407.50 L85.75 410.50 L86.47 413.50 L87.32 416.50 L88.30 419.50 L89.43 422.50 L90.72 425.50 L92.21 428.50 L93.92 431.50 L95.91 434.50 L99.5 440.5 L92.3 430 L91.9 360 Z" fill="url(#wallR)" transform="translate(232.40,0) scale(-1,1)"/>
<g><path d="M91.60 357.50 Q98.10 360.50 101.60 370.70 L100.60 371.70 Q97.10 367.00 91.60 366.50 Z" fill="#8a8a8a"/><path d="M91.30 356.60 Q98.80 359.70 102.50 371.00" stroke="#4466c8" stroke-width="1.1" fill="none"/><path d="M102.4 371.00 C100.2 374.50 99.8 379.80 102.6 379.80 C105.4 379.80 105.0 374.50 102.4 371.00 Z" fill="#4a70d0"/></g>
<g><path d="M91.60 378.00 Q98.10 381.00 101.60 391.20 L100.60 392.20 Q97.10 387.50 91.60 387.00 Z" fill="#8a8a8a"/><path d="M91.30 377.10 Q98.80 380.20 102.50 391.50" stroke="#4466c8" stroke-width="1.1" fill="none"/><path d="M102.4 391.50 C100.2 395.00 99.8 400.30 102.6 400.30 C105.4 400.30 105.0 395.00 102.4 391.50 Z" fill="#4a70d0"/></g>
<g><path d="M91.60 398.50 Q98.10 401.50 101.60 411.70 L100.60 412.70 Q97.10 408.00 91.60 407.50 Z" fill="#8a8a8a"/><path d="M91.30 397.60 Q98.80 400.70 102.50 412.00" stroke="#4466c8" stroke-width="1.1" fill="none"/><path d="M102.4 412.00 C100.2 415.50 99.8 420.80 102.6 420.80 C105.4 420.80 105.0 415.50 102.4 412.00 Z" fill="#4a70d0"/></g>
<g><path d="M91.60 418.80 Q98.10 421.80 101.60 432.00 L100.60 433.00 Q97.10 428.30 91.60 427.80 Z" fill="#8a8a8a"/><path d="M91.30 417.90 Q98.80 421.00 102.50 432.30" stroke="#4466c8" stroke-width="1.1" fill="none"/><path d="M102.4 432.30 C100.2 435.80 99.8 441.10 102.6 441.10 C105.4 441.10 105.0 435.80 102.4 432.30 Z" fill="#4a70d0"/></g>
<g transform="translate(232.40,0) scale(-1,1)"><path d="M91.60 357.50 Q98.10 360.50 101.60 370.70 L100.60 371.70 Q97.10 367.00 91.60 366.50 Z" fill="#8a8a8a"/><path d="M91.30 356.60 Q98.80 359.70 102.50 371.00" stroke="#4466c8" stroke-width="1.1" fill="none"/><path d="M102.4 371.00 C100.2 374.50 99.8 379.80 102.6 379.80 C105.4 379.80 105.0 374.50 102.4 371.00 Z" fill="#4a70d0"/></g>
<g transform="translate(232.40,0) scale(-1,1)"><path d="M91.60 378.00 Q98.10 381.00 101.60 391.20 L100.60 392.20 Q97.10 387.50 91.60 387.00 Z" fill="#8a8a8a"/><path d="M91.30 377.10 Q98.80 380.20 102.50 391.50" stroke="#4466c8" stroke-width="1.1" fill="none"/><path d="M102.4 391.50 C100.2 395.00 99.8 400.30 102.6 400.30 C105.4 400.30 105.0 395.00 102.4 391.50 Z" fill="#4a70d0"/></g>
<g transform="translate(232.40,0) scale(-1,1)"><path d="M91.60 398.50 Q98.10 401.50 101.60 411.70 L100.60 412.70 Q97.10 408.00 91.60 407.50 Z" fill="#8a8a8a"/><path d="M91.30 397.60 Q98.80 400.70 102.50 412.00" stroke="#4466c8" stroke-width="1.1" fill="none"/><path d="M102.4 412.00 C100.2 415.50 99.8 420.80 102.6 420.80 C105.4 420.80 105.0 415.50 102.4 412.00 Z" fill="#4a70d0"/></g>
<g transform="translate(232.40,0) scale(-1,1)"><path d="M91.60 418.80 Q98.10 421.80 101.60 432.00 L100.60 433.00 Q97.10 428.30 91.60 427.80 Z" fill="#8a8a8a"/><path d="M91.30 417.90 Q98.80 421.00 102.50 432.30" stroke="#4466c8" stroke-width="1.1" fill="none"/><path d="M102.4 432.30 C100.2 435.80 99.8 441.10 102.6 441.10 C105.4 441.10 105.0 435.80 102.4 432.30 Z" fill="#4a70d0"/></g>
<rect x="106.8" y="392" width="18.4" height="52" rx="9.2" fill="none" stroke="#2f4f9f" stroke-width="1.3"/>
<path d="M117.5 389.6 L115 392 L117.5 394.4" fill="none" stroke="#2f4f9f" stroke-width="1.2"/>
<path d="M114 441.6 L116.5 444 L114 446.4" fill="none" stroke="#2f4f9f" stroke-width="1.2"/>
<line x1="125.2" y1="337.5" x2="125.2" y2="396" stroke="#2ea05a" stroke-width="1.2"/>
<path d="M122 341 L125 336.5 L128 341" fill="none" stroke="#2ea05a" stroke-width="1.2"/>
<ellipse cx="117.4" cy="390.5" rx="36.8" ry="57" fill="none" stroke="#1f6fc8" stroke-width="2.6" stroke-dasharray="6.5 3.5"/>
<text x="86.8" y="324.0" font-size="15" font-weight="bold" fill="#2E9458" style="stroke:#2E9458" textLength="75.5" lengthAdjust="spacingAndGlyphs">Light C<tspan font-size="10.5" dy="3.2">x</tspan><tspan dy="-3.2">H</tspan><tspan font-size="10.5" dy="3.2">y</tspan></text>
<text x="75.8" y="467.5" font-size="15" font-weight="bold" textLength="83.5" lengthAdjust="spacingAndGlyphs">Heavy C<tspan font-size="10.5" dy="3.2">x</tspan><tspan dy="-3.2">H</tspan><tspan font-size="10.5" dy="3.2">y</tspan></text>
<text x="73.8" y="485.4" font-size="15" font-weight="bold" textLength="88.0" lengthAdjust="spacingAndGlyphs">degradation</text>
</g>
<rect x="410.10" y="399.42" width="12.20" height="109.88" fill="#3AAA6A" />
<rect x="440.13" y="333.82" width="12.20" height="175.48" fill="#3AAA6A" />
<rect x="470.16" y="452.72" width="12.20" height="56.58" fill="#3AAA6A" />
<rect x="482.36" y="505.20" width="12.20" height="4.10" fill="#F87171" />
<rect x="500.19" y="353.50" width="12.20" height="155.80" fill="#3AAA6A" />
<rect x="512.39" y="504.38" width="12.20" height="4.92" fill="#F87171" />
<rect x="530.22" y="497.41" width="12.20" height="11.89" fill="#3AAA6A" />
<rect x="560.25" y="476.91" width="12.20" height="32.39" fill="#3AAA6A" />
<rect x="572.45" y="500.69" width="12.20" height="8.61" fill="#F87171" />
<rect x="590.28" y="504.18" width="12.20" height="5.12" fill="#3AAA6A" />
<rect x="620.31" y="479.78" width="12.20" height="29.52" fill="#3AAA6A" />
<rect x="632.51" y="508.07" width="12.20" height="1.23" fill="#F87171" />
<rect x="662.54" y="508.48" width="12.20" height="0.82" fill="#F87171" />
<line x1="416.20" y1="398.19" x2="416.20" y2="400.65" stroke="#000" stroke-width="1.5" />
<line x1="414.10" y1="398.19" x2="418.30" y2="398.19" stroke="#000" stroke-width="1.5" />
<line x1="414.10" y1="400.65" x2="418.30" y2="400.65" stroke="#000" stroke-width="1.5" />
<line x1="446.23" y1="332.18" x2="446.23" y2="335.46" stroke="#000" stroke-width="1.5" />
<line x1="444.13" y1="332.18" x2="448.33" y2="332.18" stroke="#000" stroke-width="1.5" />
<line x1="444.13" y1="335.46" x2="448.33" y2="335.46" stroke="#000" stroke-width="1.5" />
<line x1="476.26" y1="449.44" x2="476.26" y2="456.00" stroke="#000" stroke-width="1.5" />
<line x1="474.16" y1="449.44" x2="478.36" y2="449.44" stroke="#000" stroke-width="1.5" />
<line x1="474.16" y1="456.00" x2="478.36" y2="456.00" stroke="#000" stroke-width="1.5" />
<line x1="506.29" y1="351.86" x2="506.29" y2="355.14" stroke="#000" stroke-width="1.5" />
<line x1="504.19" y1="351.86" x2="508.39" y2="351.86" stroke="#000" stroke-width="1.5" />
<line x1="504.19" y1="355.14" x2="508.39" y2="355.14" stroke="#000" stroke-width="1.5" />
<line x1="518.49" y1="501.31" x2="518.49" y2="507.45" stroke="#000" stroke-width="1.5" />
<line x1="516.39" y1="501.31" x2="520.59" y2="501.31" stroke="#000" stroke-width="1.5" />
<line x1="516.39" y1="507.45" x2="520.59" y2="507.45" stroke="#000" stroke-width="1.5" />
<line x1="536.32" y1="496.80" x2="536.32" y2="498.03" stroke="#000" stroke-width="1.5" />
<line x1="534.22" y1="496.80" x2="538.42" y2="496.80" stroke="#000" stroke-width="1.5" />
<line x1="534.22" y1="498.03" x2="538.42" y2="498.03" stroke="#000" stroke-width="1.5" />
<line x1="566.35" y1="463.38" x2="566.35" y2="490.44" stroke="#000" stroke-width="1.5" />
<line x1="564.25" y1="463.38" x2="568.45" y2="463.38" stroke="#000" stroke-width="1.5" />
<line x1="564.25" y1="490.44" x2="568.45" y2="490.44" stroke="#000" stroke-width="1.5" />
<line x1="578.55" y1="497.62" x2="578.55" y2="503.76" stroke="#000" stroke-width="1.5" />
<line x1="576.45" y1="497.62" x2="580.65" y2="497.62" stroke="#000" stroke-width="1.5" />
<line x1="576.45" y1="503.76" x2="580.65" y2="503.76" stroke="#000" stroke-width="1.5" />
<line x1="596.38" y1="503.56" x2="596.38" y2="504.79" stroke="#000" stroke-width="1.5" />
<line x1="594.28" y1="503.56" x2="598.48" y2="503.56" stroke="#000" stroke-width="1.5" />
<line x1="594.28" y1="504.79" x2="598.48" y2="504.79" stroke="#000" stroke-width="1.5" />
<line x1="638.61" y1="507.66" x2="638.61" y2="508.48" stroke="#000" stroke-width="1.5" />
<line x1="636.51" y1="507.66" x2="640.71" y2="507.66" stroke="#000" stroke-width="1.5" />
<line x1="636.51" y1="508.48" x2="640.71" y2="508.48" stroke="#000" stroke-width="1.5" />
<line x1="656.44" y1="508.48" x2="656.44" y2="509.30" stroke="#000" stroke-width="1.5" />
<line x1="654.34" y1="508.48" x2="658.54" y2="508.48" stroke="#000" stroke-width="1.5" />
<line x1="654.34" y1="509.30" x2="658.54" y2="509.30" stroke="#000" stroke-width="1.5" />
<line x1="407.30" y1="304.70" x2="678.20" y2="304.70" stroke="#000" stroke-width="1.5" />
<line x1="407.30" y1="304.00" x2="407.30" y2="510.00" stroke="#000" stroke-width="1.5" />
<line x1="678.20" y1="304.00" x2="678.20" y2="510.00" stroke="#000" stroke-width="1.5" />
<line x1="406.60" y1="509.30" x2="678.90" y2="509.30" stroke="#000" stroke-width="1.5" />
<line x1="403.30" y1="509.30" x2="407.30" y2="509.30" stroke="#000" stroke-width="1.5" />
<text x="400.30" y="513.80" font-size="14.3" font-weight="bold" text-anchor="end" fill="#000" >0</text>
<line x1="405.10" y1="468.30" x2="407.30" y2="468.30" stroke="#000" stroke-width="1.5" />
<line x1="403.30" y1="427.30" x2="407.30" y2="427.30" stroke="#000" stroke-width="1.5" />
<text x="400.30" y="431.80" font-size="14.3" font-weight="bold" text-anchor="end" fill="#000" >20</text>
<line x1="405.10" y1="386.30" x2="407.30" y2="386.30" stroke="#000" stroke-width="1.5" />
<line x1="403.30" y1="345.30" x2="407.30" y2="345.30" stroke="#000" stroke-width="1.5" />
<text x="400.30" y="349.80" font-size="14.3" font-weight="bold" text-anchor="end" fill="#000" >40</text>
<line x1="422.30" y1="509.30" x2="422.30" y2="513.30" stroke="#000" stroke-width="1.5" />
<line x1="407.30" y1="509.30" x2="407.30" y2="511.60" stroke="#000" stroke-width="1.5" />
<text x="422.30" y="526.70" font-size="14" font-weight="bold" text-anchor="middle" fill="#000" >Br</text>
<line x1="452.33" y1="509.30" x2="452.33" y2="513.30" stroke="#000" stroke-width="1.5" />
<line x1="437.33" y1="509.30" x2="437.33" y2="511.60" stroke="#000" stroke-width="1.5" />
<text x="452.33" y="526.70" font-size="14" font-weight="bold" text-anchor="middle" fill="#000" >S</text>
<line x1="482.36" y1="509.30" x2="482.36" y2="513.30" stroke="#000" stroke-width="1.5" />
<line x1="467.36" y1="509.30" x2="467.36" y2="511.60" stroke="#000" stroke-width="1.5" />
<text x="482.36" y="526.70" font-size="14" font-weight="bold" text-anchor="middle" fill="#000" >Na</text>
<line x1="512.39" y1="509.30" x2="512.39" y2="513.30" stroke="#000" stroke-width="1.5" />
<line x1="497.39" y1="509.30" x2="497.39" y2="511.60" stroke="#000" stroke-width="1.5" />
<text x="512.39" y="526.70" font-size="14" font-weight="bold" text-anchor="middle" fill="#000" >Ca</text>
<line x1="542.42" y1="509.30" x2="542.42" y2="513.30" stroke="#000" stroke-width="1.5" />
<line x1="527.42" y1="509.30" x2="527.42" y2="511.60" stroke="#000" stroke-width="1.5" />
<text x="542.42" y="526.70" font-size="14" font-weight="bold" text-anchor="middle" fill="#000" >Mg</text>
<line x1="572.45" y1="509.30" x2="572.45" y2="513.30" stroke="#000" stroke-width="1.5" />
<line x1="557.45" y1="509.30" x2="557.45" y2="511.60" stroke="#000" stroke-width="1.5" />
<text x="572.45" y="526.70" font-size="14" font-weight="bold" text-anchor="middle" fill="#000" >P</text>
<line x1="602.48" y1="509.30" x2="602.48" y2="513.30" stroke="#000" stroke-width="1.5" />
<line x1="587.48" y1="509.30" x2="587.48" y2="511.60" stroke="#000" stroke-width="1.5" />
<text x="602.48" y="526.70" font-size="14" font-weight="bold" text-anchor="middle" fill="#000" >I</text>
<line x1="632.51" y1="509.30" x2="632.51" y2="513.30" stroke="#000" stroke-width="1.5" />
<line x1="617.51" y1="509.30" x2="617.51" y2="511.60" stroke="#000" stroke-width="1.5" />
<text x="632.51" y="526.70" font-size="14" font-weight="bold" text-anchor="middle" fill="#000" >Al</text>
<line x1="662.54" y1="509.30" x2="662.54" y2="513.30" stroke="#000" stroke-width="1.5" />
<line x1="647.54" y1="509.30" x2="647.54" y2="511.60" stroke="#000" stroke-width="1.5" />
<text x="662.54" y="526.70" font-size="14" font-weight="bold" text-anchor="middle" fill="#000" >Ba</text>
<rect x="571.00" y="307.30" width="31.30" height="14.20" fill="#3AAA6A" />
<rect x="571.00" y="324.30" width="31.30" height="14.40" fill="#F87171" />
<text x="607.00" y="318.60" font-size="14" font-weight="bold" text-anchor="start" fill="#000" textLength="68" lengthAdjust="spacingAndGlyphs" >PP-STW-6</text>
<text x="607.00" y="335.60" font-size="14" font-weight="bold" text-anchor="start" fill="#000" textLength="62.5" lengthAdjust="spacingAndGlyphs" >PP-ST-5h</text>
<text transform="translate(377.2,532.6) rotate(-90)" font-size="16" font-weight="bold" textLength="251.5" lengthAdjust="spacingAndGlyphs">Element concentration (μg g<tspan font-size="10" dy="-6">-1</tspan><tspan dy="6">)</tspan></text>
</svg>
</body></html>
